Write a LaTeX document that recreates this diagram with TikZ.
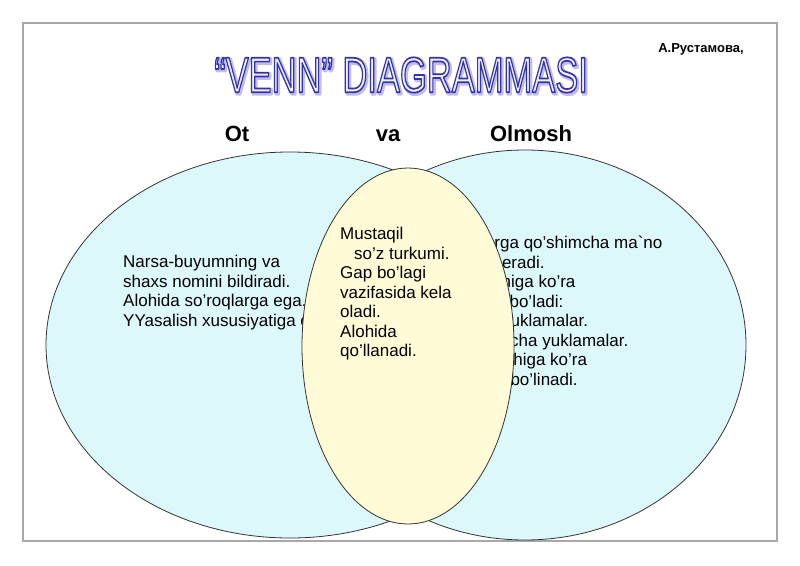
\documentclass[tikz,border=0pt]{standalone}
\usepackage{fontspec}
\setmainfont{Liberation Sans}
\definecolor{skyfill}{HTML}{DDF8FB}
\definecolor{creamfill}{HTML}{FFFBD6}
\definecolor{framegray}{HTML}{A8A8A8}
% outlined title letters
\newcommand{\outlinetext}[1]{%
  \special{pdf:literal direct 2 Tr 1 j 1.7 w 0.2 0.2 0.68 RG 0.94 0.94 1 rg}#1\special{pdf:literal direct 0 Tr 0 j}}
\newcommand{\glowtext}[1]{%
  \special{pdf:literal direct 2 Tr 1 j 4 w 0.76 0.74 0.92 RG 0.76 0.74 0.92 rg}#1\special{pdf:literal direct 0 Tr 0 j}}
\newcommand{\venntitle}{``VENN'' DIAGRAMMASI}
\begin{document}
\begin{tikzpicture}[x=1pt, y=-1pt,
    venn/.style={draw=black!80, line width=0.8pt},
    bodytext/.style={anchor=north west, align=left, inner sep=0pt,
      font=\fontsize{17}{19.5}\selectfont},
    headtext/.style={anchor=base, inner sep=0pt, font=\fontsize{22}{26}\selectfont\bfseries},
    titletext/.style={inner sep=0pt, font=\fontsize{50}{56}\selectfont}]
  \useasboundingbox (0,0) rectangle (800,565);
  % frame
  \draw[framegray, line width=1.5pt] (23,23) rectangle (777,541);
  % title
  \node[titletext] (title glow) at (402.5,76.5) {\scalebox{0.69}[1]{\glowtext{\venntitle}}};
  \node[titletext] (title) at (401,75) {\scalebox{0.69}[1]{\outlinetext{\venntitle}}};
  \node[inner sep=0pt, font=\fontsize{13}{15}\selectfont\bfseries] (author) at (701,49) {А.Рустамова,};
  % set names
  \node[headtext] (ot) at (237,141) {Ot};
  \node[headtext] (va) at (388,141) {va};
  \node[headtext] (olmosh) at (531,141) {Olmosh};
  % left set
  \draw[venn, fill=skyfill] (290,345) ellipse [x radius=244, y radius=193];
  \node[bodytext] (ot text) at (123,255)
    {Narsa-buyumning va\\ shaxs nomini bildiradi.\\ Alohida so'roqlarga ega.\\ YYasalish xususiyatiga ega.};
  % right set
  \draw[venn, fill=skyfill] (525,345) ellipse [x radius=221, y radius=195];
  \node[bodytext] (olmosh text) at (448,236)
    {So'zlarga qo'shimcha ma\textasciigrave no\\ ta'kid beradi.\\ Yasalishiga ko'ra\\ ikki turli bo'ladi:\\
     Sodda yuklamalar.\\ Qo'shimcha yuklamalar.\\ Qo'llanishiga ko'ra\\ turlarga bo'linadi.};
  % common part
  \draw[venn, fill=creamfill] (408,346) ellipse [x radius=106, y radius=178];
  \node[bodytext] (common text) at (340,227)
    {Mustaqil\\ \hspace*{14pt}so'z turkumi.\\ Gap bo'lagi\\ vazifasida kela\\ oladi.\\ Alohida\\ qo'llanadi.};
\end{tikzpicture}
\end{document}
